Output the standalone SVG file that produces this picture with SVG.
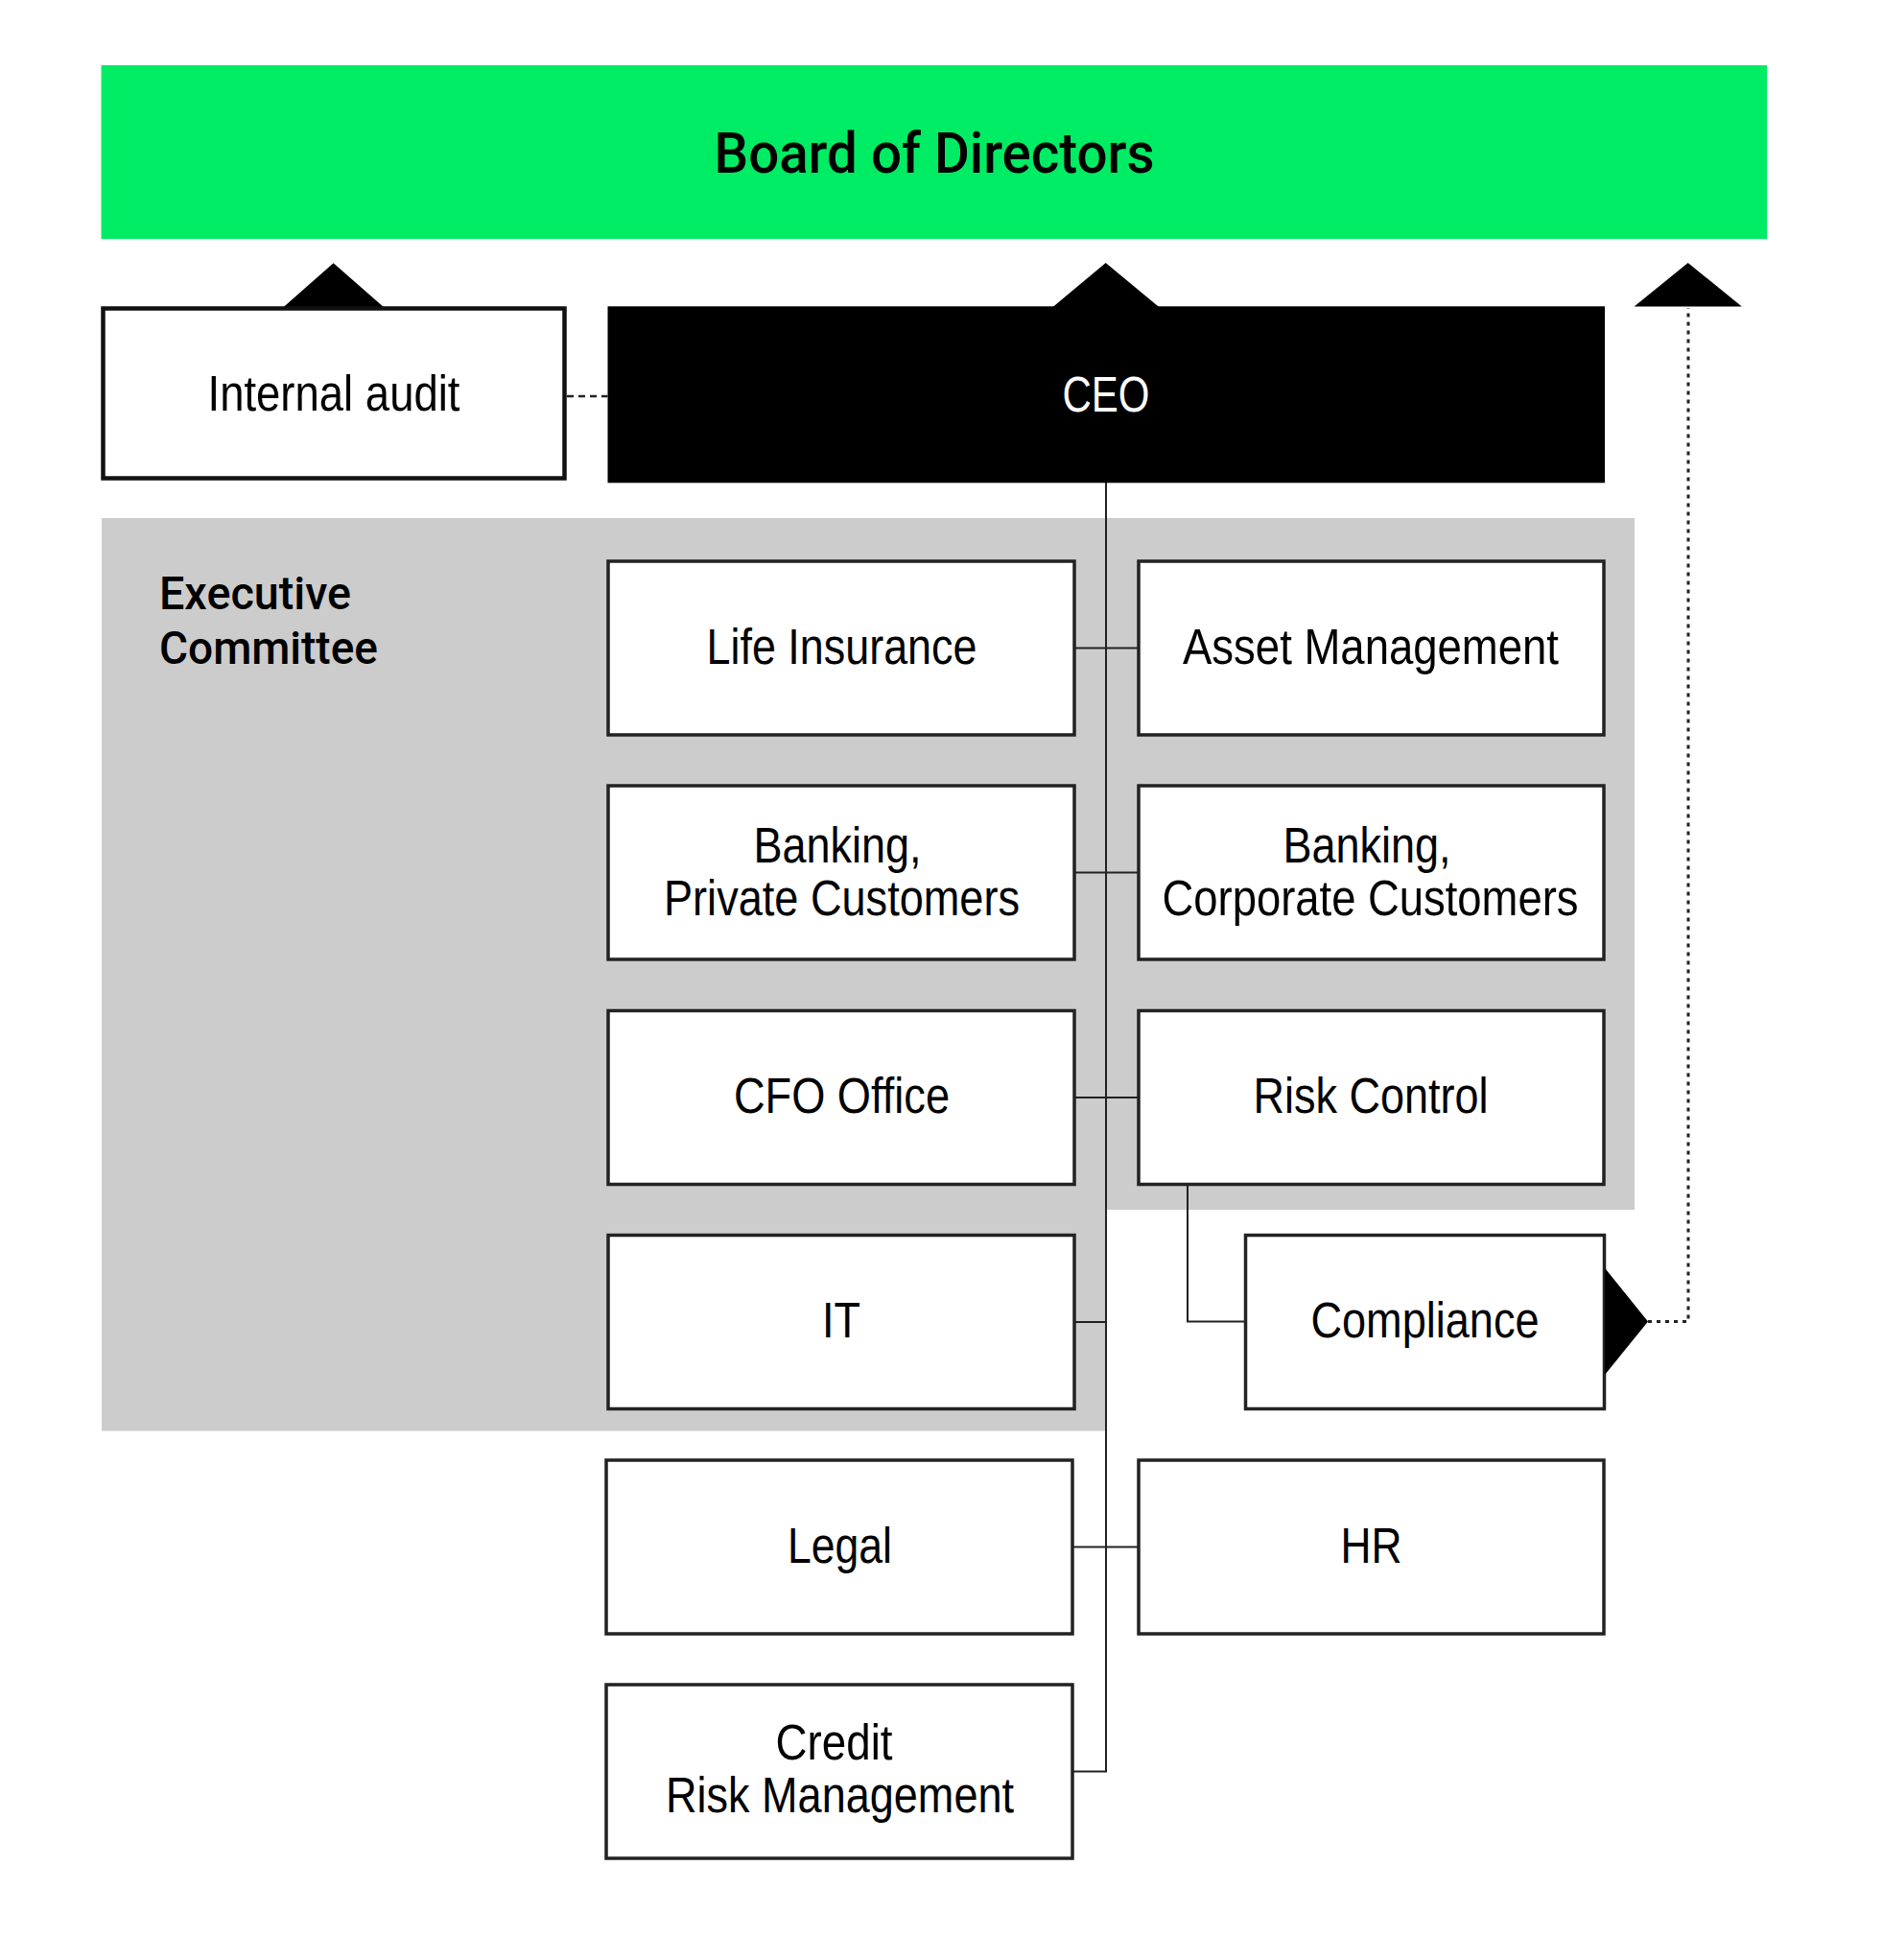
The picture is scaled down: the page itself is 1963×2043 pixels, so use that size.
<svg xmlns="http://www.w3.org/2000/svg" width="1963" height="2043" viewBox="0 0 1963 2043">
<style>
  .bg { fill: #ffffff; }
  .board { fill: #00EC64; }
  .exec { fill: #CCCCCC; }
  .box { fill: #ffffff; stroke: #222222; stroke-width: 3.5; }
  .audit { fill: #ffffff; stroke: #111111; stroke-width: 4.5; }
  .ceo { fill: #000000; }
  .tri { fill: #000000; }
  .lbl { font-family: "Liberation Sans", Arial, sans-serif; font-size: 51px; fill: #000000; text-anchor: middle; }
  .ceolbl { font-family: "Liberation Sans", Arial, sans-serif; font-size: 51px; fill: #ffffff; text-anchor: middle; }
  .head { font-family: Roboto, "Liberation Sans", Arial, sans-serif; font-weight: 500; fill: #000000; }
  .conn { fill: none; stroke: #222222; stroke-width: 2; }
  .dash { fill: none; stroke: #222222; stroke-width: 2.5; stroke-dasharray: 7 5; }
  .dot { fill: none; stroke: #222222; stroke-width: 3; stroke-dasharray: 4 5; }
</style>
<rect class="bg" x="0" y="0" width="1963" height="2043"/>

<g id="board">
  <rect class="board" x="105.5" y="68" width="1736.5" height="181"/>
  <text class="head" x="974" y="180" font-size="60" text-anchor="middle" textLength="459" lengthAdjust="spacingAndGlyphs">Board of Directors</text>
</g>

<g id="executive-committee">
  <polygon class="exec" points="106,540 1704,540 1704,1261 1153,1261 1153,1491.5 106,1491.5"/>
  <text class="head" x="166" y="635" font-size="49" textLength="200" lengthAdjust="spacingAndGlyphs">Executive</text>
  <text class="head" x="166" y="691.5" font-size="49" textLength="228" lengthAdjust="spacingAndGlyphs">Committee</text>
</g>

<g id="connectors">
  <line class="dash" x1="591" y1="413" x2="633.5" y2="413"/>
  <path class="conn" d="M1118,1846.5 H1153 V503"/>
  <line class="conn" x1="1120" y1="675.5" x2="1187" y2="675.5"/>
  <line class="conn" x1="1120" y1="909.5" x2="1187" y2="909.5"/>
  <line class="conn" x1="1120" y1="1144" x2="1187" y2="1144"/>
  <line class="conn" x1="1120" y1="1378" x2="1153" y2="1378"/>
  <line class="conn" x1="1118" y1="1612.5" x2="1187" y2="1612.5"/>
  <path class="conn" d="M1238,1235 V1377.5 H1298"/>
  <path class="dot" d="M1718,1377.5 H1760 V321"/>
  <polygon class="tri" points="1703.6,319.5 1759.7,274 1815.8,319.5"/>
</g>

<g id="internal-audit">
  <polygon class="tri" points="294.5,321 347.6,274.3 401,321"/>
  <rect class="audit" x="107.5" y="321.5" width="481" height="177"/>
  <text class="lbl" x="348" y="428" textLength="263" lengthAdjust="spacingAndGlyphs">Internal audit</text>
</g>

<g id="ceo">
  <polygon class="tri" points="1096.4,321 1152.7,274 1209.4,321"/>
  <rect class="ceo" x="633.5" y="319.3" width="1039.5" height="184"/>
  <text class="ceolbl" x="1153" y="429" textLength="91" lengthAdjust="spacingAndGlyphs">CEO</text>
</g>

<g id="life-insurance">
  <rect class="box" x="634" y="585" width="486" height="181"/>
  <text class="lbl" x="877.5" y="692" textLength="282" lengthAdjust="spacingAndGlyphs">Life Insurance</text>
</g>

<g id="asset-management">
  <rect class="box" x="1187" y="585" width="485" height="181"/>
  <text class="lbl" x="1429" y="692" textLength="392" lengthAdjust="spacingAndGlyphs">Asset Management</text>
</g>

<g id="banking-private">
  <rect class="box" x="634" y="819" width="486" height="181"/>
  <text class="lbl" x="873" y="899" textLength="175" lengthAdjust="spacingAndGlyphs">Banking,</text>
  <text class="lbl" x="877.5" y="954" textLength="371" lengthAdjust="spacingAndGlyphs">Private Customers</text>
</g>

<g id="banking-corporate">
  <rect class="box" x="1187" y="819" width="485" height="181"/>
  <text class="lbl" x="1425" y="899" textLength="175" lengthAdjust="spacingAndGlyphs">Banking,</text>
  <text class="lbl" x="1428.5" y="954" textLength="434" lengthAdjust="spacingAndGlyphs">Corporate Customers</text>
</g>

<g id="cfo-office">
  <rect class="box" x="634" y="1053.5" width="486" height="181"/>
  <text class="lbl" x="877.5" y="1160" textLength="225" lengthAdjust="spacingAndGlyphs">CFO Office</text>
</g>

<g id="risk-control">
  <rect class="box" x="1187" y="1053.5" width="485" height="181"/>
  <text class="lbl" x="1429" y="1160" textLength="245" lengthAdjust="spacingAndGlyphs">Risk Control</text>
</g>

<g id="it">
  <rect class="box" x="634" y="1287.5" width="486" height="181"/>
  <text class="lbl" x="877" y="1394" textLength="40" lengthAdjust="spacingAndGlyphs">IT</text>
</g>

<g id="compliance">
  <rect class="box" x="1298.5" y="1287.5" width="374" height="181"/>
  <polygon class="tri" points="1673,1321.7 1718,1377.5 1673,1433"/>
  <text class="lbl" x="1485.5" y="1394" textLength="238" lengthAdjust="spacingAndGlyphs">Compliance</text>
</g>

<g id="legal">
  <rect class="box" x="632" y="1522" width="486" height="181"/>
  <text class="lbl" x="875.5" y="1628.5" textLength="109" lengthAdjust="spacingAndGlyphs">Legal</text>
</g>

<g id="hr">
  <rect class="box" x="1187" y="1522" width="485" height="181"/>
  <text class="lbl" x="1429.5" y="1628.5" textLength="64" lengthAdjust="spacingAndGlyphs">HR</text>
</g>

<g id="credit-risk-management">
  <rect class="box" x="632" y="1756" width="486" height="181"/>
  <text class="lbl" x="869.5" y="1834" textLength="122" lengthAdjust="spacingAndGlyphs">Credit</text>
  <text class="lbl" x="875.5" y="1889" textLength="363" lengthAdjust="spacingAndGlyphs">Risk Management</text>
</g>
</svg>
